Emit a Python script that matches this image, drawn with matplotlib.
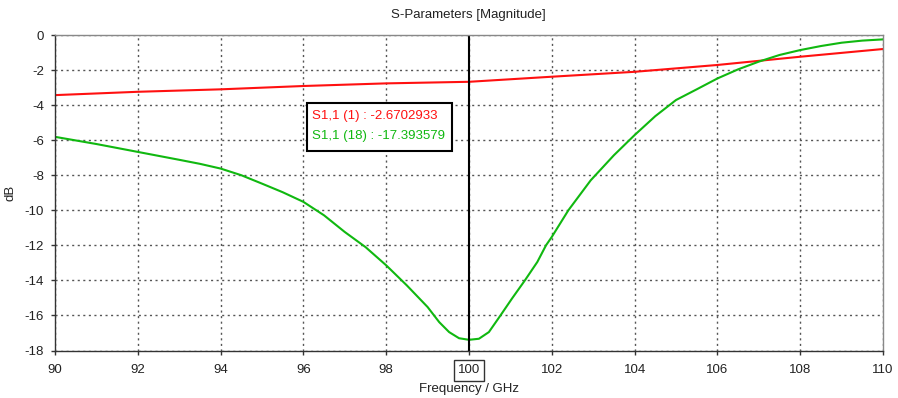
import numpy as np
import matplotlib
matplotlib.use('Agg')
import matplotlib.pyplot as plt
from matplotlib.patches import Rectangle

# S1,1 (18) - green curve
freq_g = [90, 91, 92, 93, 93.5, 94, 94.5, 95, 95.5, 96, 96.5, 97, 97.5, 98, 98.5, 99,
          99.28, 99.52, 99.76, 100, 100.24, 100.48, 100.76, 101.04, 101.35, 101.65,
          101.86, 102, 102.4, 102.94, 103.5, 104, 104.5, 105, 105.5, 106, 106.5, 107,
          107.5, 108, 108.5, 109, 109.5, 110]
s11_g = [-5.81, -6.22, -6.67, -7.12, -7.35, -7.62, -8.0, -8.48, -8.97, -9.52, -10.29,
         -11.24, -12.1, -13.14, -14.29, -15.52, -16.38, -16.95, -17.3, -17.39, -17.33,
         -16.95, -16.0, -15.03, -14.0, -12.95, -12.0, -11.52, -10.0, -8.29, -6.86, -5.71,
         -4.63, -3.71, -3.1, -2.48, -1.96, -1.52, -1.14, -0.86, -0.63, -0.44, -0.32, -0.25]

# S1,1 (1) - red curve
freq_r = [90, 92, 94, 96, 98, 100, 102, 104, 106, 108, 110]
s11_r = [-3.43, -3.24, -3.10, -2.91, -2.76, -2.67, -2.38, -2.10, -1.71, -1.24, -0.80]

marker_f = 100
label_r = "S1,1 (1) : -2.6702933"
label_g = "S1,1 (18) : -17.393579"

plt.rcParams['font.family'] = ['Liberation Sans', 'DejaVu Sans']
plt.rcParams['axes.unicode_minus'] = False
fs = 9.5
fig = plt.figure(figsize=(8.98, 3.98), dpi=100)
ax = fig.add_axes([55/898, 1-350.5/398, 828/898, 315.5/398])

ax.plot(freq_r, s11_r, color='#ff1010', lw=1.5)
ax.plot(freq_g, s11_g, color='#10b810', lw=1.5)
ax.axvline(marker_f, color='black', lw=1.5)

ax.set_xlim(90, 110)
ax.set_ylim(-18, 0)
ax.set_xticks(np.arange(90, 111, 2))
ax.set_yticks(np.arange(-18, 1, 2))
ax.grid(True, color='#555555', linestyle=(0, (1.5, 2.5)), lw=1)
ax.tick_params(length=3, width=1, labelsize=fs, colors='#333333',
               labelcolor='#222222')
ax.tick_params(axis='y', pad=5)
ax.tick_params(axis='x', pad=7)
for s in ax.spines.values():
    s.set_color('#888888')
    s.set_linewidth(1)
ax.spines['left'].set_color('#333333')
ax.spines['bottom'].set_color('#333333')

for t in ax.get_xticklabels():
    if t.get_text() == str(marker_f):
        t.set_bbox(dict(facecolor='white', edgecolor='#333333', lw=1, pad=3))

ax.set_xlabel('Frequency / GHz', fontsize=fs, labelpad=5, color='#222222')
ax.set_ylabel('dB', fontsize=fs, labelpad=6, color='#222222')
fig.text(468/898, 1-15/398, 'S-Parameters [Magnitude]', ha='center', va='center',
         fontsize=fs, color='#222222')

ax.add_patch(Rectangle((0.304, 0.632), 0.175, 0.152, transform=ax.transAxes,
                       facecolor='white', edgecolor='black', lw=1.5, zorder=5))
ax.text(0.310, 0.743, label_r, transform=ax.transAxes, color='#ff1010',
        fontsize=fs, va='center', zorder=6)
ax.text(0.310, 0.680, label_g, transform=ax.transAxes, color='#10b810',
        fontsize=fs, va='center', zorder=6)

fig.savefig('out.png', dpi=100)
